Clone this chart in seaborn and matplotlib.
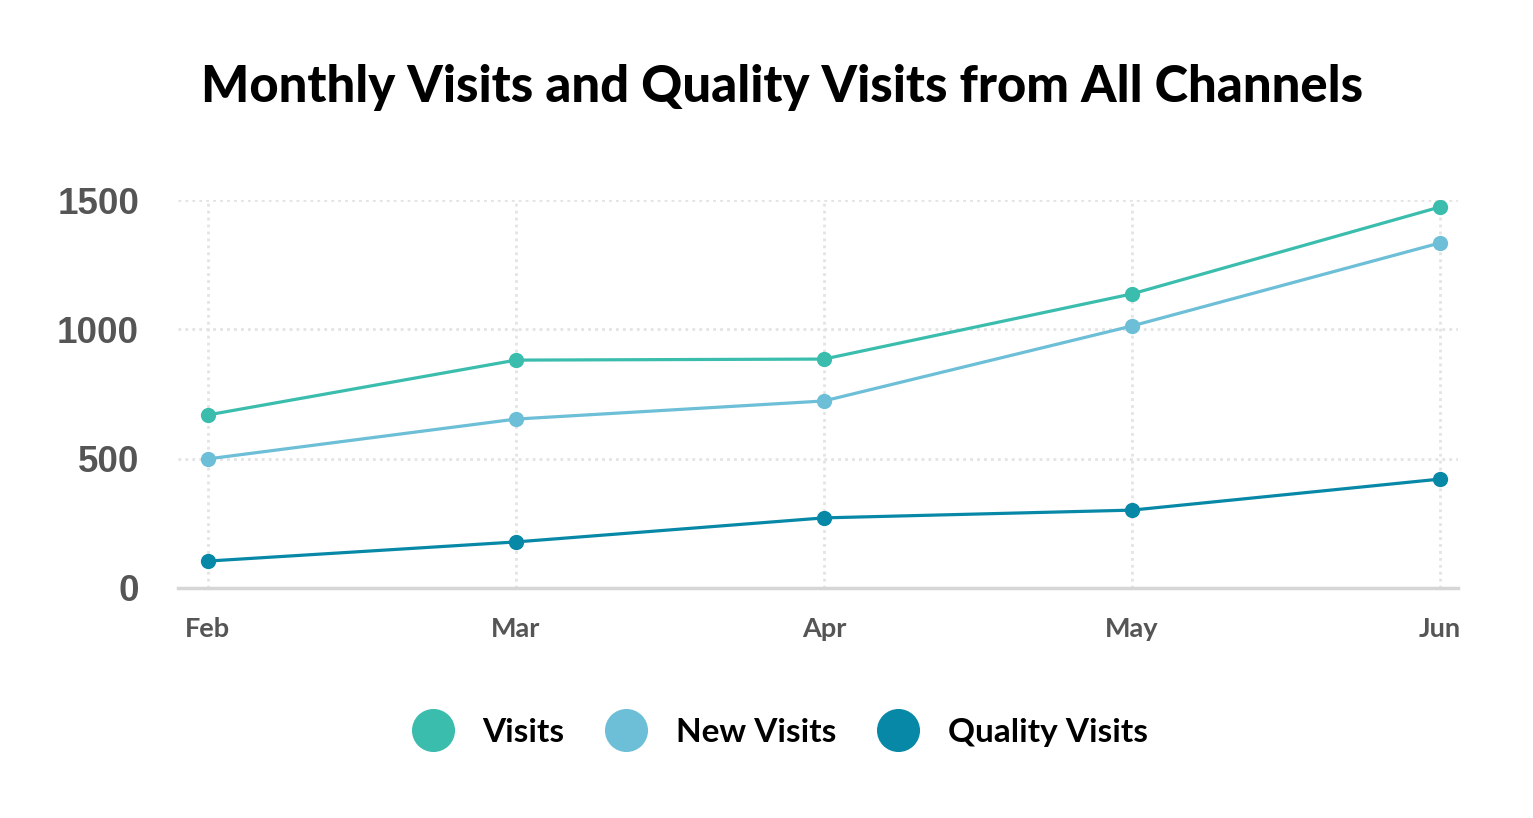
import pandas as pd
import matplotlib.pyplot as plt
import seaborn as sns
from matplotlib.lines import Line2D

months = ["Feb", "Mar", "Apr", "May", "Jun"]
visits = [669, 881, 885, 1137, 1473]
new_visits = [499, 653, 723, 1013, 1334]
quality_visits = [104, 178, 271, 301, 421]

series_names = ["Visits", "New Visits", "Quality Visits"]
colors = ["#3bbdae", "#6cbfd7", "#0888a7"]


def main():
    df = pd.DataFrame({
        "pos": list(range(len(months))) * 3,
        "value": visits + new_visits + quality_visits,
        "series": [s for s in series_names for _ in months],
    })

    sns.set_style("white")
    plt.rcParams["font.family"] = ["Lato", "DejaVu Sans"]

    fig = plt.figure(figsize=(15.33, 8.18), dpi=100)
    ax = fig.add_axes([0.1161, 0.2812, 0.951 - 0.1161, 0.7555 - 0.2812])

    sns.lineplot(data=df, x="pos", y="value", hue="series", hue_order=series_names,
                 palette=colors, marker="o", markersize=11, markeredgewidth=0,
                 linewidth=2.3, legend=False, ax=ax)

    ax.set_xlim(-0.097, 4.058)
    ax.set_ylim(0, 1500)
    ax.set_xticks(range(len(months)))
    ax.set_xticklabels(months)
    ax.set_yticks([0, 500, 1000, 1500])
    ax.set_xlabel("")
    ax.set_ylabel("")

    ax.grid(True, color="#e3e3e3", linestyle=(0, (1, 1.5)), linewidth=2)
    ax.set_axisbelow(True)
    for side in ["top", "right", "left"]:
        ax.spines[side].set_visible(False)
    ax.spines["bottom"].set_color("#d6d6d6")
    ax.spines["bottom"].set_linewidth(2.5)

    ax.tick_params(axis="both", length=0)
    ax.tick_params(axis="y", pad=28)
    ax.tick_params(axis="x", pad=21)
    for lbl in ax.get_yticklabels():
        lbl.set_fontfamily(["Liberation Sans", "DejaVu Sans"])
        lbl.set_fontsize(26.5)
        lbl.set_fontweight("bold")
        lbl.set_color("#555555")
    for lbl in ax.get_xticklabels():
        lbl.set_fontsize(19.5)
        lbl.set_fontweight("bold")
        lbl.set_color("#555555")

    fig.suptitle("Monthly Visits and Quality Visits from All Channels",
                 x=0.51, y=0.922, fontsize=36.5, fontweight="black", color="#000000")

    handles = [Line2D([], [], linestyle="none", marker="o", markersize=31,
                      markerfacecolor=c, markeredgewidth=0) for c in colors]
    leg = fig.legend(handles, series_names, loc="center", bbox_to_anchor=(0.508, 0.105),
                     ncol=3, frameon=False, handlelength=1.4, handletextpad=0.8,
                     columnspacing=1.15, prop={"size": 24, "weight": "bold"})
    for txt in leg.get_texts():
        txt.set_color("#000000")

    fig.savefig("out.png", dpi=100, facecolor="white")
    plt.close(fig)


if __name__ == "__main__":
    main()
